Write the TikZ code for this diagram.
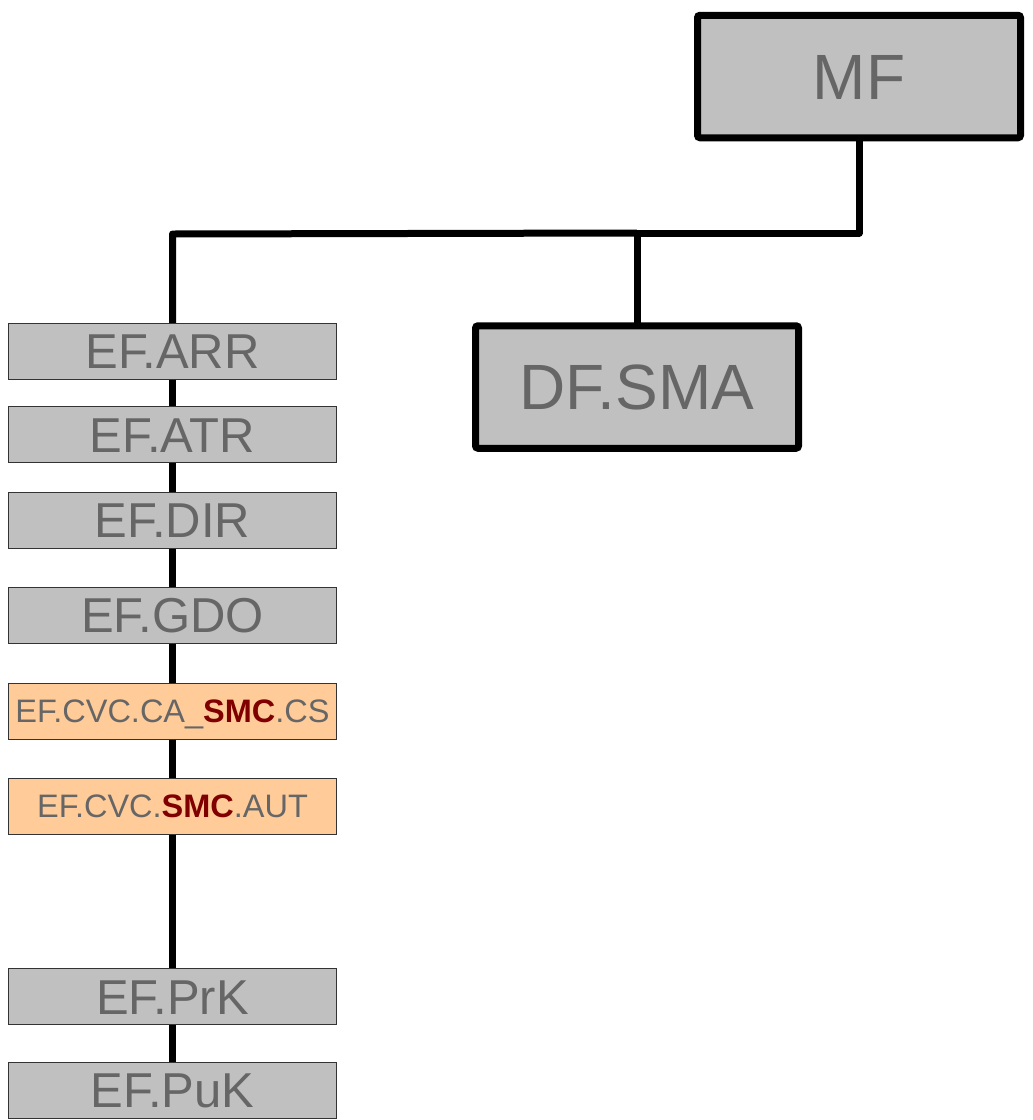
\documentclass[tikz,border=0pt]{standalone}
\usepackage{fontspec}
\setmainfont{Liberation Sans}
\usetikzlibrary{backgrounds}
\definecolor{boxgray}{HTML}{C0C0C0}
\definecolor{txtgray}{HTML}{666666}
\definecolor{boxorange}{HTML}{FFCC99}
\definecolor{smcred}{HTML}{800000}
\definecolor{thinborder}{HTML}{333333}
\newcommand{\smcw}{\textcolor{smcred}{\bfseries SMC}}
\begin{document}
\begin{tikzpicture}[x=1pt,y=-1pt,
  bigbox/.style={draw=black, line width=7pt, rounded corners=2.5pt, fill=boxgray,
    minimum width=323pt, minimum height=122.5pt, inner sep=0pt, outer sep=0pt,
    text=txtgray, font=\fontsize{64}{66}\selectfont, text height=45.8pt, text depth=0pt},
  smallbox/.style={draw=thinborder, line width=1pt, fill=boxgray,
    minimum width=328pt, minimum height=56pt, inner sep=0pt, outer sep=0pt,
    text=txtgray, font=\fontsize{49}{52}\selectfont, text height=35.1pt, text depth=0pt},
  orangebox/.style={smallbox, fill=boxorange, font=\fontsize{32.5}{35}\selectfont, text height=23.3pt},
  conn/.style={draw=black, line width=7pt, line join=round}
]
\useasboundingbox (0,0) rectangle (1033,1120);

\coordinate (J) at (637,233);
\coordinate (L) at (172.5,234);

\node[bigbox] (MF) at (859,76.5) {MF};
\node[bigbox] (DF) at (637,387) {DF.SMA};

\node[smallbox] (ARR) at (172.5,351) {EF.ARR};
\node[smallbox] (ATR) at (172.5,434.5) {EF.ATR};
\node[smallbox] (DIR) at (172.5,520) {EF.DIR};
\node[smallbox] (GDO) at (172.5,615) {EF.GDO};
\node[orangebox] (CS) at (172.5,711) {EF.CVC.CA\_\smcw.CS};
\node[orangebox] (AUT) at (172.5,806) {EF.CVC.\smcw.AUT};
\node[smallbox] (PRK) at (172.5,996.5) {EF.PrK};
\node[smallbox] (PUK) at (172.5,1090) {EF.PuK};

\begin{scope}[on background layer]
\fill[white] (0,0) rectangle (1033,1120);
\draw[conn] (MF.south) |- (J) -- (DF.north);
\draw[conn] (J) -- (L) -- (ARR.north);
\draw[conn] (ARR.south) -- (ATR.north);
\draw[conn] (ATR.south) -- (DIR.north);
\draw[conn] (DIR.south) -- (GDO.north);
\draw[conn] (GDO.south) -- (CS.north);
\draw[conn] (CS.south) -- (AUT.north);
\draw[conn] (AUT.south) -- (PRK.north);
\draw[conn] (PRK.south) -- (PUK.north);
\end{scope}
\end{tikzpicture}
\end{document}
